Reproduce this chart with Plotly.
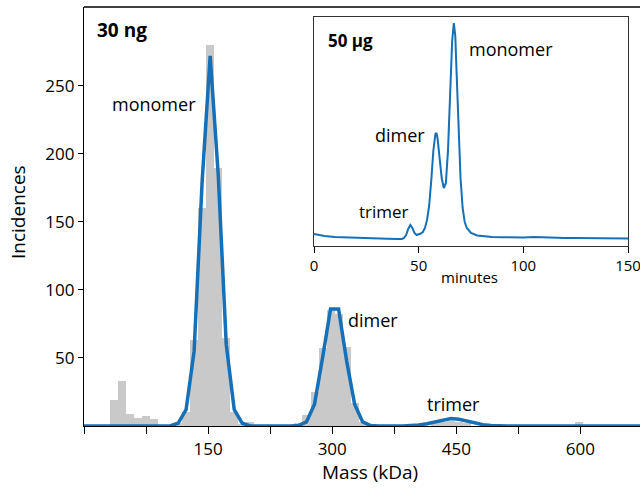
import plotly.graph_objects as go

# ---------------- data ----------------
# Histogram of single-molecule mass measurements (30 ng)
hist_mass = [36.1, 45.8, 55.5, 65.2, 74.9, 84.6, 113.7, 123.4, 133.1, 142.8, 152.5,
             162.2, 171.9, 181.6, 191.3, 201.0, 259.2, 268.9, 278.6, 288.3, 298.0,
             307.7, 317.4, 327.1, 336.8, 424.1, 433.8, 443.5, 453.2, 462.9, 598.7]
hist_counts = [19, 33, 9, 6, 7, 5, 2, 10, 63, 160, 280,
               190, 65, 10, 1, 3, 2, 8, 25, 57, 85,
               82, 58, 17, 3, 2, 3, 4, 3, 2, 3]
bin_width = 9.7

# Gaussian fit evaluated at bin centres
fit_mass = [0, 104.0, 113.7, 123.4, 133.1, 142.8, 152.5, 162.2, 171.9, 181.6, 191.3,
            201.0, 249.5, 259.2, 268.9, 278.6, 288.3, 298.0, 307.7, 317.4, 327.1,
            336.8, 346.5, 356.2, 385.3, 395.0, 404.7, 414.4, 424.1, 433.8, 443.5,
            453.2, 462.9, 472.6, 482.3, 492.0, 501.7, 511.4, 672]
fit_counts = [0, 0, 2, 12, 55, 180, 272, 185, 60, 12, 2,
              0, 0, 0.3, 3, 16, 50, 86, 86, 48, 16,
              3, 0.3, 0, 0, 0.3, 0.8, 1.6, 2.9, 4.5, 5.5,
              5.0, 3.5, 2.0, 1.0, 0.4, 0.1, 0, 0]

# Size-exclusion chromatogram (50 µg), inset
sec_minutes = [0, 2, 5, 10, 15, 20, 25, 30, 35, 40, 42, 43, 44, 45, 46, 47, 48, 49,
               50, 51, 52, 53, 54, 55, 56, 57, 58, 58.5, 59, 60, 61, 62, 63, 64, 65,
               66, 66.8, 67.5, 68, 69, 70, 71, 72, 73, 75, 78, 80, 85, 90, 95, 100,
               105, 110, 115, 120, 125, 130, 135, 140, 145, 150]
sec_signal = [12, 11, 10, 9, 8.5, 8, 7.8, 7.5, 7.2, 7, 7, 8, 11, 17, 21, 18, 13, 11,
              11.5, 12.5, 14, 18, 26, 40, 65, 95, 112, 113, 108, 88, 68, 58, 63, 95, 150,
              205, 223, 210, 180, 125, 68, 38, 24, 18, 13, 10.5, 10, 9, 8.7, 8.5, 8.5,
              9, 8.5, 8.2, 8, 8, 7.8, 7.5, 7.5, 7.3, 7.5]

main_xticks = [0, 75, 150, 225, 300, 375, 450, 525, 600]
main_xticklabels = ["", "", "150", "", "300", "", "450", "", "600"]
main_yticks = [50, 100, 150, 200, 250]
inset_xticks = [0, 50, 100, 150]

# ---------------- figure ----------------
W, H = 640, 489
FONT = "Open Sans"
BLUE = "#1570b8"

def px(x):
    return x / W

def py(y):
    return (H - y) / H

fig = go.Figure()
fig.add_trace(go.Bar(x=hist_mass, y=hist_counts, width=bin_width,
                     marker=dict(color="#c9c9c9", line=dict(width=0)),
                     xaxis="x", yaxis="y", showlegend=False))
fig.add_trace(go.Scatter(x=fit_mass, y=fit_counts, mode="lines",
                         line=dict(color=BLUE, width=3.5),
                         xaxis="x", yaxis="y", showlegend=False))
fig.add_trace(go.Scatter(x=sec_minutes, y=sec_signal, mode="lines",
                         line=dict(color=BLUE, width=2),
                         xaxis="x2", yaxis="y2", showlegend=False))

fig.update_layout(
    width=W, height=H,
    margin=dict(l=0, r=0, t=0, b=0),
    paper_bgcolor="white", plot_bgcolor="rgba(0,0,0,0)",
    font=dict(family=FONT, color="black", size=18),
    bargap=0,
    xaxis=dict(domain=[px(84), 1], range=[0, 672], anchor="y",
               tickvals=main_xticks, ticktext=main_xticklabels,
               ticks="outside", ticklen=7, tickwidth=1.2, tickcolor="black",
               showline=True, linecolor="black", linewidth=1.3,
               showgrid=False, zeroline=False, automargin=False,
               tickfont=dict(size=17)),
    yaxis=dict(domain=[py(426), py(7)], range=[0, 308], anchor="x",
               tickvals=main_yticks, ticks="outside", ticklen=5, tickwidth=1.2,
               tickcolor="black", showline=True, linecolor="black", linewidth=1.3,
               showgrid=False, zeroline=False, automargin=False,
               tickfont=dict(size=17)),
    xaxis2=dict(domain=[px(314), px(628)], range=[0, 150], anchor="y2",
                tickvals=inset_xticks, ticks="outside", ticklen=6, tickwidth=1,
                tickcolor="black", showline=True, mirror=True, linecolor="#333333",
                linewidth=1.2, showgrid=False, zeroline=False, automargin=False,
                ticklabeloverflow="allow", tickfont=dict(size=15)),
    yaxis2=dict(domain=[py(246), py(17)], range=[0, 229], anchor="x2",
                showticklabels=False, ticks="", showline=True, mirror=True,
                linecolor="#333333", linewidth=1.2, showgrid=False, zeroline=False,
                automargin=False),
    shapes=[dict(type="line", xref="paper", yref="paper", x0=px(84), x1=1,
                 y0=py(7), y1=py(7), line=dict(color="black", width=1.3))],
)

ann = []
# main-plot labels
ann.append(dict(text="<b>30 ng</b>", x=px(95), y=py(30), xref="paper", yref="paper",
                xanchor="left", yanchor="middle", showarrow=False, font=dict(size=19)))
ann.append(dict(text="monomer", x=84.6, y=237, xref="x", yref="y",
                xanchor="center", yanchor="middle", showarrow=False, font=dict(size=18)))
ann.append(dict(text="dimer", x=349, y=78, xref="x", yref="y",
                xanchor="center", yanchor="middle", showarrow=False, font=dict(size=18)))
ann.append(dict(text="trimer", x=447, y=16, xref="x", yref="y",
                xanchor="center", yanchor="middle", showarrow=False, font=dict(size=18)))
ann.append(dict(text="Mass (kDa)", x=px(370), y=py(472), xref="paper", yref="paper",
                xanchor="center", yanchor="middle", showarrow=False, font=dict(size=19)))
ann.append(dict(text="Incidences", x=px(18), y=py(212), xref="paper", yref="paper",
                xanchor="center", yanchor="middle", showarrow=False, textangle=-90,
                font=dict(size=19)))
# inset labels
ann.append(dict(text="<b>50 µg</b>", x=5.7, y=205, xref="x2", yref="y2",
                xanchor="left", yanchor="middle", showarrow=False, font=dict(size=17)))
ann.append(dict(text="monomer", x=94.1, y=197, xref="x2", yref="y2",
                xanchor="center", yanchor="middle", showarrow=False, font=dict(size=18)))
ann.append(dict(text="dimer", x=41.1, y=111, xref="x2", yref="y2",
                xanchor="center", yanchor="middle", showarrow=False, font=dict(size=18)))
ann.append(dict(text="trimer", x=33.4, y=34, xref="x2", yref="y2",
                xanchor="center", yanchor="middle", showarrow=False, font=dict(size=17)))
ann.append(dict(text="minutes", x=px(469), y=py(277), xref="paper", yref="paper",
                xanchor="center", yanchor="middle", showarrow=False, font=dict(size=15)))
fig.update_layout(annotations=ann)

fig.write_html("out.html")
